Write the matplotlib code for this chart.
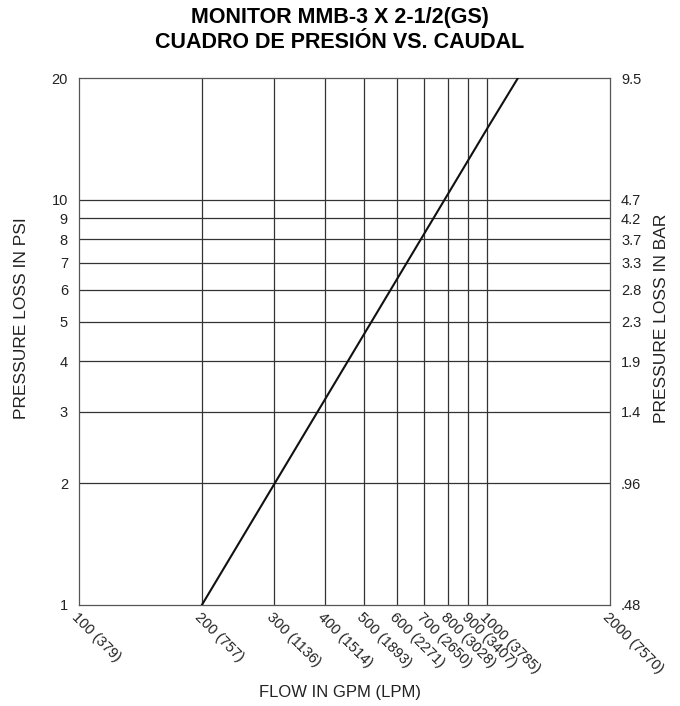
import matplotlib.pyplot as plt
from matplotlib import font_manager

plt.rcParams['font.family'] = ['Liberation Sans', 'DejaVu Sans']

# flow (gpm) vs pressure loss (psi) - straight line on log-log paper
flow_gpm = [200, 1000, 1190]
loss_psi = [1, 15, 20]

x_ticks = [100, 200, 300, 400, 500, 600, 700, 800, 900, 1000, 2000]
x_labels = ['100 (379)', '200 (757)', '300 (1136)', '400 (1514)', '500 (1893)',
            '600 (2271)', '700 (2650)', '800 (3028)', '900 (3407)',
            '1000 (3785)', '2000 (7570)']
y_ticks = [1, 2, 3, 4, 5, 6, 7, 8, 9, 10, 20]
bar_labels = ['.48', '.96', '1.4', '1.9', '2.3', '2.8', '3.3', '3.7', '4.2', '4.7', '9.5']

names = {f.name for f in font_manager.fontManager.ttflist}
title_font = ['Liberation Sans Narrow'] if 'Liberation Sans Narrow' in names else ['Liberation Sans']
title_font.append('DejaVu Sans')

fig = plt.figure(figsize=(6.8, 7.06), dpi=100)
ax = fig.add_axes([79 / 680, 1 - 605 / 706, (610 - 79) / 680, (605 - 78) / 706])
ax.set_xscale('log')
ax.set_yscale('log')
ax.set_xlim(100, 2000)
ax.set_ylim(1, 20)

grid_col = '#333333'
for xv in x_ticks[1:-1]:
    ax.axvline(xv, color=grid_col, lw=0.9, zorder=1)
for yv in y_ticks[1:-1]:
    ax.axhline(yv, color=grid_col, lw=0.9, zorder=1)

ax.plot(flow_gpm, loss_psi, color='#111111', lw=1.5, zorder=3)

for s in ax.spines.values():
    s.set_color('#555555')
    s.set_linewidth(0.9)

ax.minorticks_off()
ax.set_xticks(x_ticks)
ax.set_xticklabels(x_labels, rotation=-45, ha='left', va='top',
                   rotation_mode='anchor', fontsize=10.5, color='#222222')
ax.set_yticks(y_ticks)
ax.set_yticklabels([str(v) for v in y_ticks], fontsize=10.5, color='#222222')
ax.tick_params(length=0, pad=8)
ax.tick_params(axis='x', pad=4)

ax2 = ax.twinx()
ax2.set_yscale('log')
ax2.set_ylim(1, 20)
ax2.minorticks_off()
ax2.set_yticks(y_ticks)
ax2.set_yticklabels(bar_labels, fontsize=10.5, color='#222222')
ax2.tick_params(length=0, pad=8)
for s in ax2.spines.values():
    s.set_visible(False)

label_y = 1 - 318 / 706
fig.text(22 / 680, label_y, 'PRESSURE LOSS IN PSI', rotation=90, ha='center',
         va='center', fontsize=12.5, color='#222222')
fig.text(662 / 680, label_y, 'PRESSURE LOSS IN BAR', rotation=90, ha='center',
         va='center', fontsize=12.5, color='#222222')
fig.text(0.5, 1 - 693 / 706, 'FLOW IN GPM (LPM)', ha='center', va='center',
         fontsize=12, color='#222222')

fig.text(0.5, 1 - 18 / 706, 'MONITOR MMB-3 X 2-1/2(GS)', ha='center', va='center',
         fontsize=15.5, fontweight='bold', family=title_font)
fig.text(0.5, 1 - 43 / 706, 'CUADRO DE PRESIÓN VS. CAUDAL', ha='center', va='center',
         fontsize=15.5, fontweight='bold', family=title_font)

fig.savefig('out.png', dpi=100)
